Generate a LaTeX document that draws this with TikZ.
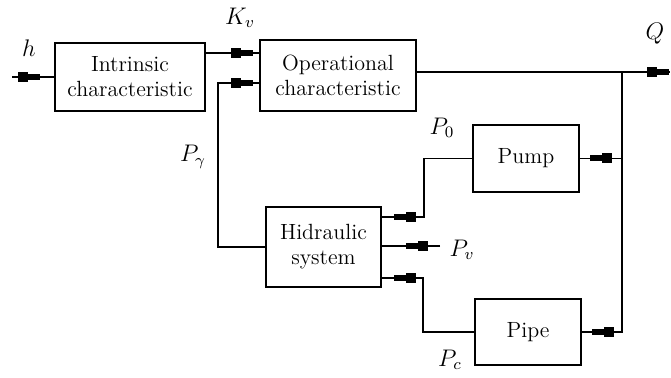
\documentclass[tikz,border=0pt]{standalone}
\usetikzlibrary{decorations.markings}
\begin{document}
\begin{tikzpicture}[
  x=0.5pt,y=-0.5pt,
  line width=0.8pt,
  block/.style={rectangle,draw,align=center,inner sep=2pt,font=\fontsize{11}{12.5}\selectfont},
  sig/.style={font=\fontsize{12}{14}\selectfont},
  flow/.style={postaction={decorate,decoration={markings,
    mark=at position #1 with {\fill (-5pt,-2.5pt) rectangle (0pt,2.5pt);
      \fill (0pt,-1.5pt) rectangle (6pt,1.5pt);}}}}
]
\useasboundingbox (0,0) rectangle (671,378);
\node[block,minimum width=75pt,minimum height=34pt] (intr) at (130,77) {Intrinsic\\characteristic};
\node[block,minimum width=78pt,minimum height=35.5pt] (oper) at (338,75.5) {Operational\\characteristic};
\node[block,minimum width=57.5pt,minimum height=40pt] (hyd) at (323.5,247) {Hidraulic\\system};
\node[block,minimum width=53pt,minimum height=33.5pt] (pump) at (526,158.5) {Pump};
\node[block,minimum width=53pt,minimum height=33pt] (pipe) at (528,332) {Pipe};
% signal labels
\node[sig] (hlab) at (29,48) {$h$};
\node[sig] (kvlab) at (240,18) {$K_v$};
\node[sig] (qlab) at (655,34) {$Q$};
\node[sig] (p0lab) at (442,128) {$P_0$};
\node[sig] (pglab) at (193,157) {$P_\gamma$};
\node[sig] (pvlab) at (462,250) {$P_v$};
\node[sig] (pclab) at (450,360) {$P_c$};
% ports and free ends
\coordinate (hin) at (12,77);
\coordinate (qout) at (670,72);
\coordinate (split) at (622,72);
\coordinate (pvin) at (440,246);
\coordinate (kvport) at ([yshift=11.25pt]oper.west);
\coordinate (pgport) at ([yshift=-3.75pt]oper.west);
\coordinate (p0in) at ([yshift=15pt]hyd.east);
\coordinate (pcin) at ([yshift=-15.5pt]hyd.east);
% connectors
\draw[flow=8pt] (hin)--(intr.west);
\draw[flow=-9pt] (intr.east |- kvport)--(kvport);
\draw[flow=-9pt] (hyd.west) -| ([xshift=-20.5pt]pgport)--(pgport);
\draw[flow=-6.5pt] (oper.east |- qout)--(qout);
\draw[flow=-11pt] (split) |- (pump.east);
\draw[flow=-11pt] (split) |- (pipe.east);
\draw[flow=-12pt] (pump.west) -| ([xshift=21pt]p0in)--(p0in);
\draw[flow=-18pt] (pvin)--(pvin -| hyd.east);
\draw[flow=-12pt] (pipe.west) -| ([xshift=20.5pt]pcin)--(pcin);
\end{tikzpicture}
\end{document}
